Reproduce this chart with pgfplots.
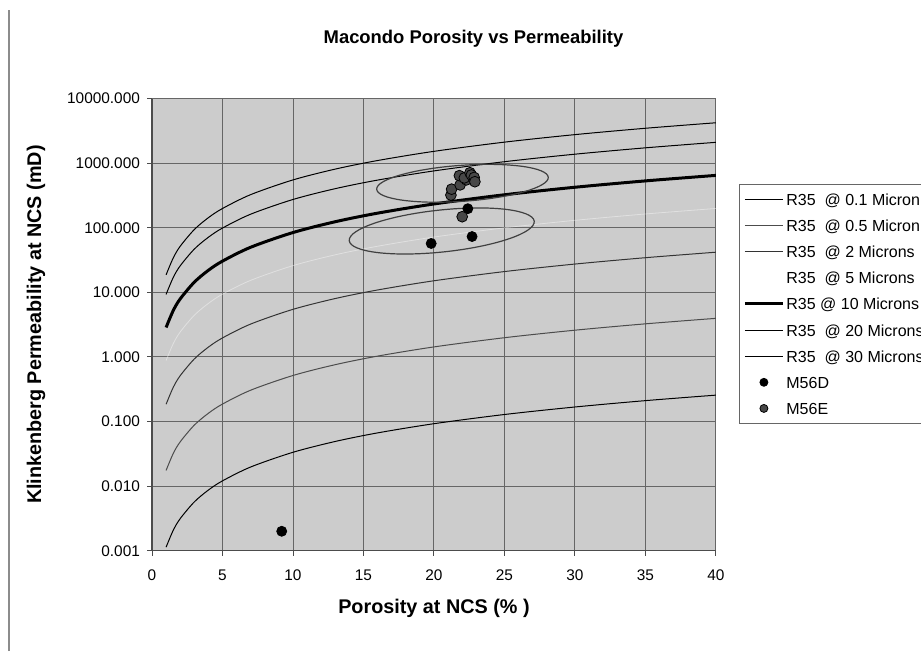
\documentclass[border=0pt]{standalone}
\usepackage{fontspec}
\setmainfont{Liberation Sans}
\usepackage{pgfplots}
\pgfplotsset{compat=1.18}
\pgfplotsset{
  dotlegend/.style={legend image code/.code={\draw[##1, mark size=2pt] plot coordinates {(9.5pt,0pt)};}},
}

% Winland R35 pore-throat curves: permeability (mD) against porosity (%)
\pgfplotstableread{
phi   r01      r05     r2      r5      r10     r20     r30
1     0.001134 0.01750 0.1849  0.8788  2.857   9.284   18.65
1.5   0.002057 0.03176 0.3356  1.595   5.184   16.85   33.83
2     0.003139 0.04847 0.5121  2.434   7.911   25.71   51.63
3     0.005695 0.08795 0.9292  4.415   14.35   46.65   93.68
4     0.008691 0.1342  1.418   6.738   21.91   71.19   143.0
5     0.01206  0.1863  1.968   9.353   30.40   98.81   198.4
7     0.01978  0.3054  3.227   15.33   49.85   162.0   325.3
10    0.03340  0.5158  5.450   25.90   84.19   273.6   549.5
13    0.04913  0.7586  8.015   38.09   123.8   402.4   808.1
16    0.06665  1.029   10.87   51.67   168.0   545.9   1096.3
20    0.09251  1.4285  15.09   71.72   233.1   757.7   1521.6
25    0.1284   1.983   20.95   99.54   323.6   1051.6  2111.9
30    0.1678   2.592   27.38   130.1   423.0   1374.7  2760.8
35    0.2105   3.251   34.34   163.2   530.5   1724.1  3462.6
40    0.2561   3.955   41.79   198.6   645.6   2098.0  4213.2
}\curves

% Core plug measurements
\pgfplotstableread{
phi   k
9.2   0.002
19.8  57
22.7  73
22.4  197
}\msixd
\pgfplotstableread{
phi   k
22.0  148
21.2  320
21.25 395
21.85 460
21.8  640
22.3  550
22.15 590
22.55 710
22.65 655
22.85 600
22.9  515
}\msixe

\begin{document}
\begin{tikzpicture}
\path[use as bounding box] (0pt,0pt) rectangle (460.5pt,327.5pt);
\clip (0pt,0pt) rectangle (460.5pt,327.5pt);
\draw[black!45, line width=0.6pt] (4.5pt,2pt) -- (4.5pt,322.5pt);
\node[font=\fontsize{9.2}{11}\selectfont\bfseries] at (236.75pt,308pt)
  {Macondo Porosity vs Permeability};
\begin{axis}[
  at={(76pt,52.15pt)}, anchor=south west,
  scale only axis, width=282pt, height=226.1pt,
  ymode=log, log basis y=10,
  xmin=0, xmax=40, ymin=0.001, ymax=10000,
  xtick={0,5,...,40},
  ytick={0.001,0.01,0.1,1,10,100,1000,10000},
  yticklabels={0.001,0.010,0.100,1.000,10.000,100.000,1000.000,10000.000},
  yminorticks=false, xminorticks=false,
  grid=major,
  major grid style={draw=black!60, line width=0.5pt},
  axis x line*=bottom, axis y line*=left,
  axis line style={black!70, line width=0.6pt},
  tick align=outside, major tick length=2.5pt,
  tick style={black!70, line width=0.5pt},
  axis background/.style={fill=black!20},
  tick label style={font=\fontsize{7.7}{9}\selectfont},
  xticklabel style={yshift=-3.5pt},
  /pgf/number format/assume math mode=true,
  label style={font=\fontsize{9.9}{12}\selectfont\bfseries},
  xlabel={Porosity at NCS (\% )},
  ylabel={Klinkenberg Permeability at NCS (mD)},
  xlabel style={at={(axis description cs:0.5,-0.1267)}, anchor=center},
  ylabel style={at={(axis description cs:-0.2057,0.5)}, anchor=center},
  legend style={at={(axis description cs:1.0408,0.811)}, anchor=north west,
    draw=black!60, fill=white, font=\fontsize{8}{9}\selectfont,
    row sep=4.06pt, inner xsep=2pt, inner ysep=3.05pt,
    nodes={inner xsep=1pt, inner ysep=0pt, text height=7.5pt, text depth=1.5pt}},
  legend cell align=left,
  legend image code/.code={\draw[#1] (0pt,0pt) -- (19pt,0pt);},
]
\addplot[black, line width=0.5pt, smooth] table[x=phi, y=r01] {\curves};
\addlegendentry{R35\ \ @ 0.1 Micron}
\addplot[black!70, line width=0.5pt, smooth] table[x=phi, y=r05] {\curves};
\addlegendentry{R35\ \ @ 0.5 Micron}
\addplot[black!80, line width=0.5pt, smooth] table[x=phi, y=r2] {\curves};
\addlegendentry{R35\ \ @ 2 Microns}
\addplot[white, draw opacity=0.4, line width=0.4pt, smooth] table[x=phi, y=r5] {\curves};
\addlegendentry{R35\ \ @ 5 Microns}
\addplot[black, line width=1.5pt, smooth] table[x=phi, y=r10] {\curves};
\addlegendentry{R35 @ 10 Microns}
\addplot[black, line width=0.5pt, smooth] table[x=phi, y=r20] {\curves};
\addlegendentry{R35\ \ @ 20 Microns}
\addplot[black, line width=0.5pt, smooth] table[x=phi, y=r30] {\curves};
\addlegendentry{R35\ \ @ 30 Microns}

% groupings around the high and low permeability samples
\draw[black!75, line width=0.6pt, rotate around={4:(axis cs:22.02,487)}]
  (axis cs:22.02,487) ellipse [x radius=43pt, y radius=9pt];
\draw[black!75, line width=0.6pt, rotate around={6:(axis cs:20.55,89)}]
  (axis cs:20.55,89) ellipse [x radius=46.5pt, y radius=10.5pt];

\addplot[only marks, mark=*, mark size=2.5pt, black, dotlegend]
  table[x=phi, y=k] {\msixd};
\addlegendentry{M56D}
\addplot[only marks, mark=*, mark size=2.7pt, draw=black, fill=black!72, dotlegend]
  table[x=phi, y=k] {\msixe};
\addlegendentry{M56E}
\end{axis}
\end{tikzpicture}
\end{document}
